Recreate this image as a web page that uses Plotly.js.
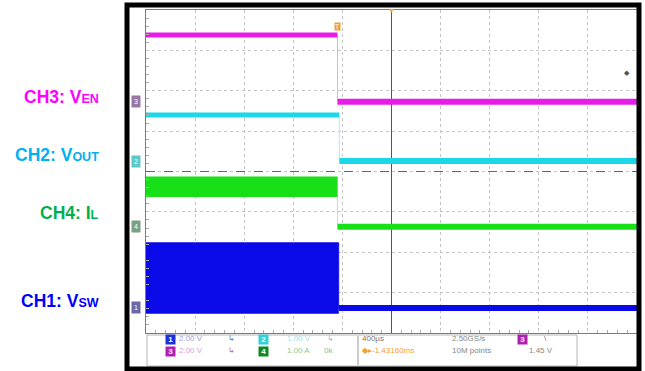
<!DOCTYPE html>
<html><head><meta charset="utf-8">
<script src="https://cdn.plot.ly/plotly-3.0.1.min.js"></script>
<style>html,body{margin:0;padding:0;background:#fff}#chart{width:645px;height:371px}</style>
</head><body><div id="chart"></div>
<script>
// Screen time span (µs): 10 divisions x 400 µs/div
const screenTimeUs = [-2000, 2000];
const timeDivUs = 400;
// Channels, top to bottom on screen
const chMain = ['CH3: V', 'CH2: V', 'CH4: I', 'CH1: V'];
const chSub = ['EN', 'OUT', 'L', 'SW'];
const chNumbers = ['3', '2', '4', '1'];
const chScalePerDiv = [2.0, 1.0, 1.0, 2.0];        // V/div or A/div
const chOffsetDiv = [1.73, 0.26, -1.37, -3.38];    // ground marker, divisions from centre
const chEdgeUs = [-440, -425, -440, -430];         // turn-off edge time
const chBeforeHi = [3.30, 1.14, 1.23, 3.22];       // upper envelope before edge
const chBeforeLo = [3.30, 1.14, 0.76, -0.25];      // lower envelope before edge
const chAfter = [0.0, 0.0, 0.0, 0.0];              // level after edge
const chColors = ['#e81ce8', '#1ad8e8', '#18e018', '#0a0ae8'];
const chEdgeColors = ['#f0a8f0', '#a8eef4', '#b0f0b0', '#3c3cf0'];
const chLabelColors = ['#ff00ff', '#00b0f0', '#00b050', '#0000ff'];
const chMarkerColors = ['#9a78a6', '#5ec8c8', '#7e9e80', '#6a6aa8'];
const triggerLevelV = 1.45; // CH3 trigger level
// Info bar texts
const ch1ScaleText = '2.00 V';
const ch3ScaleText = '2.00 V';
const ch2ScaleText = '1.00 V';
const ch4ScaleText = '1.00 A';
const timebaseText = '400µs';
const sampleRateText = '2.50GS/s';
const recordText = '10M points';
const trigPosText = '◆▸-1.43160ms';
const trigLevelText = '1.45 V';

const traces = [];
chMain.forEach((lab, i) => {
  const ya = 'y' + (i + 2);
  const t0 = screenTimeUs[0], t1 = screenTimeUs[1], te = chEdgeUs[i];
  traces.push({x: [te, te], y: [chBeforeHi[i], chAfter[i]], yaxis: ya, mode: 'lines',
    line: {color: chEdgeColors[i], width: 1}, hoverinfo: 'skip', showlegend: false});
  if (chBeforeHi[i] === chBeforeLo[i]) {
    traces.push({x: [t0, te], y: [chBeforeHi[i], chBeforeHi[i]], yaxis: ya, mode: 'lines',
      line: {color: chColors[i], width: 5}, showlegend: false});
  } else {
    traces.push({x: [t0, te], y: [chBeforeLo[i], chBeforeLo[i]], yaxis: ya, mode: 'lines',
      line: {color: chColors[i], width: 1.5}, showlegend: false});
    traces.push({x: [t0, te], y: [chBeforeHi[i], chBeforeHi[i]], yaxis: ya, mode: 'lines',
      fill: 'tonexty', fillcolor: chColors[i],
      line: {color: chColors[i], width: 1.5}, showlegend: false});
  }
  traces.push({x: [te, t1], y: [chAfter[i], chAfter[i]], yaxis: ya, mode: 'lines',
    line: {color: chColors[i], width: 6}, showlegend: false});
});

const px = p => (p - 146) / 491;   // layout helper: pixel -> paper x
const py = p => (333 - p) / 323;   // layout helper: pixel -> paper y

const layout = {
  width: 645, height: 371,
  margin: {l: 146, r: 8, t: 10, b: 38},
  paper_bgcolor: '#ffffff', plot_bgcolor: '#ffffff',
  showlegend: false,
  font: {family: 'Liberation Sans, Arial, sans-serif'},
  xaxis: {range: screenTimeUs, dtick: timeDivUs, tick0: 0, showgrid: true, gridcolor: '#c4c4c4',
    griddash: 'dot', gridwidth: 1, zeroline: true, zerolinecolor: '#555', zerolinewidth: 1,
    showticklabels: false, ticks: '', showline: true, linecolor: '#7a7a7a', linewidth: 1, mirror: true,
    minor: {dtick: timeDivUs / 5, ticks: 'inside', ticklen: 3, tickcolor: '#aaa', showgrid: false}},
  xaxis2: {overlaying: 'x', anchor: 'free', position: 0.5, range: screenTimeUs, showgrid: false,
    zeroline: false, showline: false, showticklabels: false, ticks: '',
    minor: {dtick: timeDivUs / 5, ticks: 'outside', ticklen: 3, tickcolor: '#888'}},
  yaxis: {range: [-4, 4], dtick: 1, tick0: 0, showgrid: true, gridcolor: '#c4c4c4', griddash: 'dot',
    gridwidth: 1, zeroline: false, showticklabels: false, ticks: '', showline: true,
    linecolor: '#7a7a7a', linewidth: 1, mirror: true,
    minor: {dtick: 0.2, ticks: 'inside', ticklen: 3, tickcolor: '#aaa', showgrid: false}},
  shapes: [
    {type: 'line', xref: 'paper', x0: 0, x1: 1, yref: 'y', y0: 0, y1: 0,
      line: {color: '#666', width: 1, dash: 'dash'}},
    {type: 'rect', xref: 'paper', yref: 'paper', x0: px(147), x1: px(577), y0: py(366), y1: py(335),
      line: {color: '#b8b8b8', width: 1}},
    {type: 'line', xref: 'paper', yref: 'paper', x0: px(358), x1: px(358), y0: py(365), y1: py(336),
      line: {color: '#999', width: 1}},
    {type: 'rect', xref: 'paper', yref: 'paper', x0: px(127), x1: px(639), y0: py(369), y1: py(5),
      line: {color: '#000', width: 5}}
  ],
  annotations: []
};

chMain.forEach((lab, i) => {
  const off = chOffsetDiv[i], s = chScalePerDiv[i];
  layout['yaxis' + (i + 2)] = {overlaying: 'y', anchor: 'x', visible: false,
    range: [(-4 - off) * s, (4 - off) * s]};
});

const labelY = [97, 155, 213, 301];
chMain.forEach((lab, i) => {
  layout.annotations.push({xref: 'paper', yref: 'paper', x: px(101), y: py(labelY[i]),
    xanchor: 'right', yanchor: 'middle', showarrow: false,
    text: '<b>' + lab + '<span style="font-size:12.5px">' + chSub[i] + '</span></b>',
    font: {size: 17.5, color: chLabelColors[i], family: 'Liberation Sans, Arial, sans-serif'}});
  layout.annotations.push({xref: 'paper', yref: 'y' + (i + 2), x: px(136), y: 0,
    xanchor: 'center', yanchor: 'middle', showarrow: false, text: chNumbers[i],
    bgcolor: chMarkerColors[i], borderpad: 2,
    font: {size: 7, color: '#ffffff'}});
});
// trigger markers
layout.annotations.push({xref: 'x', yref: 'paper', x: chEdgeUs[0], y: py(22), showarrow: false,
  text: 'T', bgcolor: '#f0a030', borderpad: 0, font: {size: 7, color: '#fff'}});
layout.annotations.push({xref: 'x', yref: 'paper', x: 0, y: py(10), yanchor: 'middle', showarrow: false,
  text: '▼', font: {size: 7, color: '#f0a030'}});
layout.annotations.push({xref: 'paper', yref: 'y2', x: px(632), y: triggerLevelV, showarrow: false,
  text: '◆', font: {size: 7, color: '#555'}});

// info bar
const badge = (x, y, t, c) => layout.annotations.push({xref: 'paper', yref: 'paper', x: px(x), y: py(y),
  showarrow: false, text: '<b> ' + t + ' </b>', bgcolor: c, borderpad: 0,
  font: {size: 8, color: '#fff'}});
const info = (x, y, t, c) => layout.annotations.push({xref: 'paper', yref: 'paper', x: px(x), y: py(y),
  xanchor: 'left', showarrow: false, text: t, font: {size: 8, color: c}});
badge(165, 345, '1', '#2030d8'); badge(165, 357, '3', '#b020b0');
badge(258, 345, '2', '#30d0d8'); badge(258, 357, '4', '#108a20');
info(177, 345, ch1ScaleText, '#9aa0d8'); info(177, 357, ch3ScaleText, '#d8a0d8');
info(285, 345, ch2ScaleText, '#a0e0ea'); info(285, 357, ch4ScaleText, '#90c890');
info(226, 345, '↳', '#6a70c0'); info(226, 357, '↳', '#c060a0');
info(325, 345, '↳', '#80c8d8'); info(322, 357, '0k', '#90c090');
info(360, 345, timebaseText, '#777'); info(360, 357, trigPosText, '#f0a030');
info(450, 345, sampleRateText, '#888'); info(450, 357, recordText, '#888');
badge(528, 345, '3', '#b020b0'); info(542, 345, '\\', '#777');
info(527, 357, trigLevelText, '#888');

Plotly.newPlot('chart', traces, layout, {staticPlot: true, displayModeBar: false});
</script></body></html>
